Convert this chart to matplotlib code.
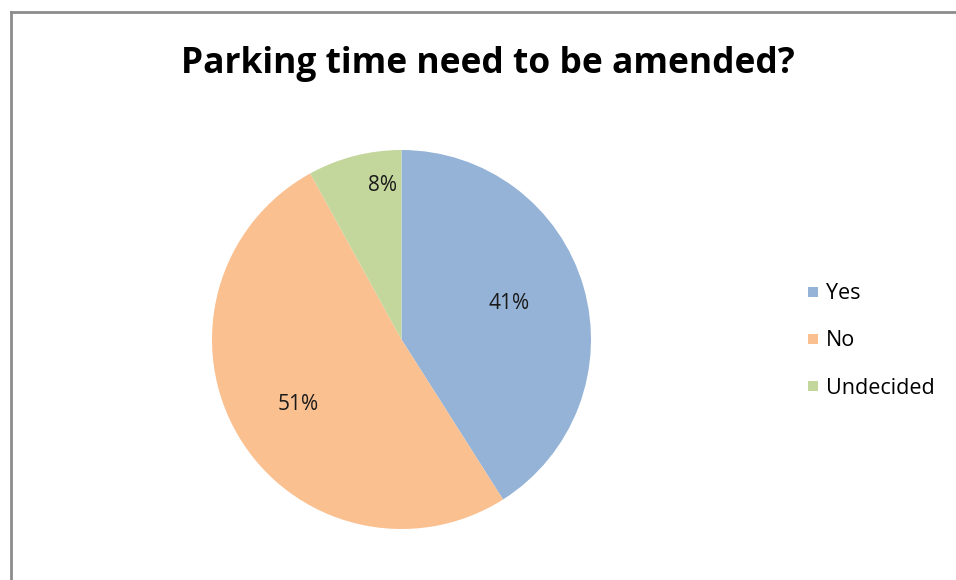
import matplotlib
matplotlib.use("Agg")
import matplotlib.pyplot as plt
from matplotlib.lines import Line2D
import numpy as np

title = "Parking time need to be amended?"
categories = ["Yes", "No", "Undecided"]
values = [41, 51, 8]
colors = ["#95B3D7", "#FAC090", "#C3D69B"]
label_dist = [0.60, 0.644, 0.816]
label_shift_deg = [2.5, 1.4, -7.5]

plt.rcParams['font.family'] = ['Open Sans', 'DejaVu Sans']

W, H = 956, 580
fig = plt.figure(figsize=(W / 100, H / 100), dpi=100)

# frame lines (left and top)
fig.add_artist(Line2D([10.5 / W, 10.5 / W], [0, 1 - 12 / H], color="#8c8c8c", lw=2))
fig.add_artist(Line2D([10.5 / W, 1], [1 - 12 / H, 1 - 12 / H], color="#8c8c8c", lw=2))

cx, cy, r = 401.5, 339.5, 189.5
ax = fig.add_axes([(cx - r) / W, 1 - (cy + r) / H, 2 * r / W, 2 * r / H])
wedges, texts = ax.pie(values, colors=colors, startangle=90, counterclock=False,
                       radius=1, wedgeprops=dict(linewidth=0))
ax.set_xlim(-1, 1)
ax.set_ylim(-1, 1)
ax.axis("off")

for w, v, d, s in zip(wedges, values, label_dist, label_shift_deg):
    ang = np.deg2rad((w.theta1 + w.theta2) / 2 + s)
    ax.text(d * np.cos(ang), d * np.sin(ang), f"{v}%", ha="center", va="center",
            fontsize=15, color="#1a1a1a")

fig.text(488 / W, 1 - 73 / H, title, ha="center", va="baseline",
         fontsize=25.5, fontweight="bold", color="black")

handles = [Line2D([], [], marker="s", linestyle="none", markersize=7,
                  markerfacecolor=c, markeredgewidth=0) for c in colors]
leg = fig.legend(handles, categories, loc="center left",
                 bbox_to_anchor=(793 / W, 1 - 341 / H), frameon=False,
                 fontsize=15.5, labelspacing=1.21, handletextpad=0.15,
                 handlelength=0.9, borderpad=0)

fig.savefig("out.png", dpi=100)
